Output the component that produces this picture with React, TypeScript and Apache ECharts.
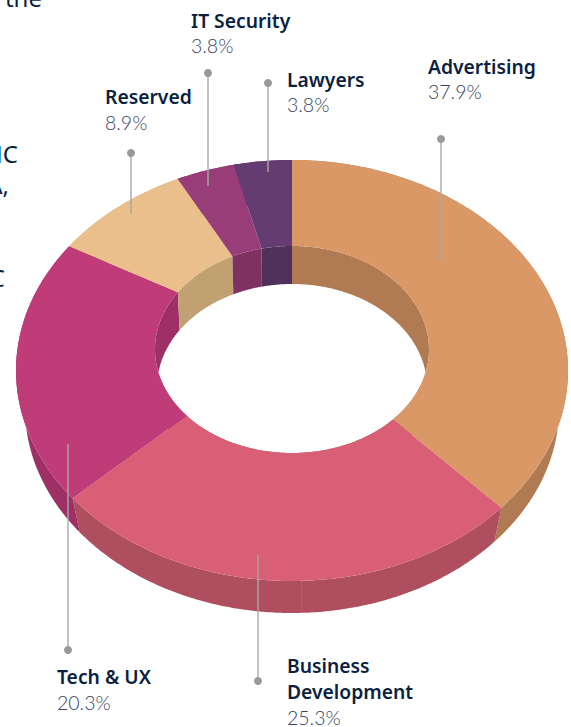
import React, { useEffect, useRef } from "react";
import * as echarts from "echarts";

const categories = ["Advertising", "Business Development", "Tech & UX", "Reserved", "IT Security", "Lawyers"];
const shares = [37.9, 25.3, 20.3, 8.9, 3.8, 3.8];
const topColors = ["#D99866", "#D95F76", "#BF3C79", "#EBBF8B", "#993D78", "#643C72"];
const wallColors = ["#B07A52", "#AF4E5F", "#9E3066", "#C1A072", "#7F3262", "#52305C"];

const W = 571;
const H = 727;
const NAME_FONT = '"Noto Sans", sans-serif';
const PCT_FONT = 'Lato, "Noto Sans", sans-serif';
const NAVY = "#0B1F3F";
const SLATE = "#36425F";
const LEADER = "#A8A8A8";
const DOT = "#999999";

// Perspective ellipses of the ring (outer/inner edge of top and bottom faces)
const outerTop = { cx: 292, cy: 370.5, rx: 276, ry: 210.5, kR: 0.87, kL: 0.89 };
const outerBottom = { cx: 292, cy: 408, rx: 267, ry: 205, kR: 0.87, kL: 0.89 };
const innerTop = { cx: 292, cy: 349.5, rx: 137, ry: 103.5, kR: 0.908, kL: 0.94 };
const innerBottom = { cx: 292, cy: 387.5, rx: 135, ry: 103.5, kR: 0.908, kL: 0.94 };

type Ell = typeof outerTop;

function arc(e: Ell, a0: number, a1: number): number[][] {
  const n = Math.max(6, Math.ceil(Math.abs(a1 - a0) / 0.01));
  const pts: number[][] = [];
  for (let i = 0; i <= n; i++) {
    const theta = a0 + ((a1 - a0) * i) / n;
    const k = theta < Math.PI ? e.kR : e.kL;
    const t = 2 * Math.atan2(k * Math.sin(theta / 2), Math.cos(theta / 2));
    pts.push([e.cx + e.rx * Math.sin(t), e.cy - e.ry * Math.cos(t)]);
  }
  return pts;
}

const total = shares.reduce((a, b) => a + b, 0);
function angles(i: number): [number, number] {
  let s = 0;
  for (let j = 0; j < i; j++) s += shares[j];
  return [(s / total) * 2 * Math.PI, ((s + shares[i]) / total) * 2 * Math.PI];
}

function renderWalls(params: any) {
  const i = params.dataIndex;
  const [a0, a1] = angles(i);
  const fill = { fill: wallColors[i] };
  return {
    type: "group",
    children: [
      { type: "polygon", shape: { points: [...arc(innerTop, a0, a1), ...arc(innerBottom, a1, a0)] }, style: fill },
      { type: "polygon", shape: { points: [...arc(outerTop, a0, a1), ...arc(outerBottom, a1, a0)] }, style: fill },
    ],
  };
}

function renderTop(params: any) {
  const i = params.dataIndex;
  const [a0, a1] = angles(i);
  return {
    type: "polygon",
    shape: { points: [...arc(outerTop, a0, a1), ...arc(innerTop, a1, a0)] },
    style: { fill: topColors[i] },
  };
}

function callout(name: string[], pct: number, tx: number, baselines: number[], pctBase: number, lx: number, dotY: number, endY: number) {
  const els: any[] = [
    { type: "line", z: 20, shape: { x1: lx, y1: dotY, x2: lx, y2: endY }, style: { stroke: LEADER, lineWidth: 1.4 } },
    { type: "circle", z: 21, shape: { cx: lx, cy: dotY, r: 4 }, style: { fill: DOT } },
  ];
  name.forEach((line, i) => {
    els.push({
      type: "text", z: 22, x: tx, y: baselines[i] + 2,
      style: { text: line, fill: NAVY, font: `600 19.3px ${NAME_FONT}`, verticalAlign: "bottom", align: "left" },
    });
  });
  els.push({
    type: "text", z: 22, x: tx, y: pctBase + 2,
    style: { text: `${pct}%`, fill: SLATE, font: `300 19.5px ${PCT_FONT}`, verticalAlign: "bottom", align: "left" },
  });
  return els;
}

function edgeText(text: string, right: number, baseline: number) {
  return {
    type: "text", z: 5, x: right, y: baseline + 2,
    style: { text, fill: NAVY, font: `400 24px ${NAME_FONT}`, align: "right", verticalAlign: "bottom" },
  };
}

export default function App() {
  const ref = useRef<HTMLDivElement>(null);
  useEffect(() => {
    document.body.style.margin = "0";
    const chart = echarts.init(ref.current!, null, { renderer: "svg" });
    const data = categories.map((name, i) => ({ name, value: shares[i] }));
    chart.setOption({
      animation: false,
      backgroundColor: "#ffffff",
      series: [
        { type: "custom", coordinateSystem: "none", z: 1, silent: true, data, renderItem: renderWalls },
        { type: "custom", coordinateSystem: "none", z: 2, silent: true, data, renderItem: renderTop },
      ],
      graphic: {
        elements: [
          edgeText("the", 42, 7),
          edgeText("HC", 18, 163),
          edgeText("A,", 9, 194),
          edgeText("C", 5, 287),
          { type: "line", z: 10, shape: { x1: 301.5, y1: 581, x2: 301.5, y2: 613 }, style: { stroke: "#C65A6E", lineWidth: 0.8 } },
          ...callout(["Advertising"], shares[0], 428, [74], 99.5, 441, 139, 262),
          ...callout(["Business", "Development"], shares[1], 287, [673, 699], 725, 258, 681, 555),
          ...callout(["Tech & UX"], shares[2], 57, [684], 710, 68, 650, 444),
          ...callout(["Reserved"], shares[3], 105, [104], 130, 131, 153, 214),
          ...callout(["IT Security"], shares[4], 191, [28], 53, 208, 73, 186),
          ...callout(["Lawyers"], shares[5], 287, [87], 112, 268, 83, 172),
        ],
      },
    });
    return () => chart.dispose();
  }, []);
  return <div ref={ref} style={{ width: W, height: H }} />;
}
